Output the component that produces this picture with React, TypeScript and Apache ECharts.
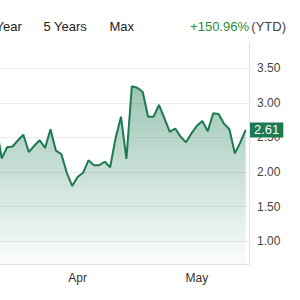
import React, { useEffect, useRef } from "react";
import * as echarts from "echarts";

const dates: string[] = [
  "2024-03-08", "2024-03-11", "2024-03-12", "2024-03-13", "2024-03-14", "2024-03-15",
  "2024-03-18", "2024-03-19", "2024-03-20", "2024-03-21", "2024-03-22",
  "2024-03-25", "2024-03-26", "2024-03-27", "2024-03-28",
  "2024-04-01", "2024-04-02", "2024-04-03", "2024-04-04", "2024-04-05",
  "2024-04-08", "2024-04-09", "2024-04-10", "2024-04-11", "2024-04-12",
  "2024-04-15", "2024-04-16", "2024-04-17", "2024-04-18", "2024-04-19",
  "2024-04-22", "2024-04-23", "2024-04-24", "2024-04-25", "2024-04-26",
  "2024-04-29", "2024-04-30",
  "2024-05-01", "2024-05-02", "2024-05-03", "2024-05-06", "2024-05-07",
  "2024-05-08", "2024-05-09", "2024-05-10", "2024-05-13", "2024-05-14",
];

const prices: number[] = [
  2.67, 2.2, 2.36, 2.37, 2.46, 2.54, 2.29, 2.38, 2.46, 2.35, 2.62,
  2.31, 2.26, 1.99, 1.8, 1.93, 1.99, 2.17, 2.1, 2.1, 2.15, 2.07,
  2.49, 2.8, 2.19, 3.24, 3.22, 3.16, 2.8, 2.8, 2.97, 2.78, 2.58,
  2.63, 2.51, 2.43, 2.56, 2.67, 2.74, 2.59, 2.85, 2.84, 2.7, 2.62,
  2.27, 2.43, 2.61,
];

const yTicks: number[] = [1.0, 1.5, 2.0, 2.5, 3.0, 3.5];
const rangeButtons: string[] = ["1 Year", "5 Years", "Max"];
const changeText = "+150.96%";
const periodText = "(YTD)";

const MONTHS = ["Jan", "Feb", "Mar", "Apr", "May", "Jun", "Jul", "Aug", "Sep", "Oct", "Nov", "Dec"];

export default function App() {
  const ref = useRef<HTMLDivElement>(null);
  useEffect(() => {
    if (!ref.current) return;
    const chart = echarts.init(ref.current, undefined, { renderer: "svg" });
    const font = "'Liberation Sans', Arial, sans-serif";
    const monthStarts: number[] = [];
    dates.forEach((d, i) => {
      if (i > 0 && d.slice(5, 7) !== dates[i - 1].slice(5, 7)) monthStarts.push(i);
    });
    const last = prices[prices.length - 1];
    const green = "#1b7a52";
    const buttonX = [22, 87, 134];
    chart.setOption({
      animation: false,
      graphic: [
        ...rangeButtons.map((t, i) => ({
          type: "text",
          right: 300 - buttonX[i],
          top: 20,
          style: { text: t, fill: "#222", font: `13px ${font}` },
        })),
        {
          type: "text",
          right: 300 - 249,
          top: 20,
          style: { text: changeText, fill: "#2a8a3e", font: `13px ${font}` },
        },
        {
          type: "text",
          right: 300 - 286,
          top: 20,
          style: { text: periodText, fill: "#444", font: `13px ${font}` },
        },
      ],
      grid: { left: 0, right: 51, top: 42, bottom: 36 },
      xAxis: {
        type: "value",
        min: 0.686,
        max: 46.61,
        axisLine: { show: true, lineStyle: { color: "#e2e2e2", width: 1 } },
        axisTick: { show: false },
        splitLine: { show: false },
        axisLabel: {
          customValues: monthStarts,
          formatter: (v: number) => MONTHS[parseInt(dates[Math.round(v)].slice(5, 7), 10) - 1],
          color: "#333",
          fontSize: 12,
          fontFamily: font,
          margin: 8,
        },
      },
      yAxis: {
        type: "value",
        position: "right",
        min: 0.672,
        max: 3.88,
        axisLine: { show: true, lineStyle: { color: "#e2e2e2", width: 1 } },
        axisTick: { show: false, customValues: yTicks },
        splitLine: { show: true, lineStyle: { color: "#ececec", width: 1 } },
        axisLabel: {
          customValues: yTicks,
          formatter: (v: number) => v.toFixed(2),
          color: "#444",
          fontSize: 12,
          fontFamily: font,
          margin: 8,
        },
      },
      series: [
        {
          type: "line",
          data: prices.map((p, i) => [i, p]),
          showSymbol: false,
          symbol: "none",
          clip: false,
          z: 3,
          lineStyle: { color: green, width: 2 },
          areaStyle: {
            color: new echarts.graphic.LinearGradient(0, 0, 0, 1, [
              { offset: 0, color: "rgba(27,122,82,0.62)" },
              { offset: 1, color: "rgba(27,122,82,0.03)" },
            ]),
          },
          markLine: {
            silent: true,
            symbol: "none",
            z: 10,
            lineStyle: { color: "rgba(0,0,0,0)", width: 1, type: "solid" },
            data: [{ yAxis: last }],
            label: {
              show: true,
              position: "end",
              distance: 1,
              formatter: () => last.toFixed(2),
              color: "#ffffff",
              backgroundColor: green,
              padding: [1, 4, 1, 4],
              fontSize: 13,
              fontFamily: font,
            },
          },
        },
      ],
    });
    return () => chart.dispose();
  }, []);
  return <div ref={ref} style={{ width: 300, height: 300, position: "absolute", left: 0, top: 0 }} />;
}
